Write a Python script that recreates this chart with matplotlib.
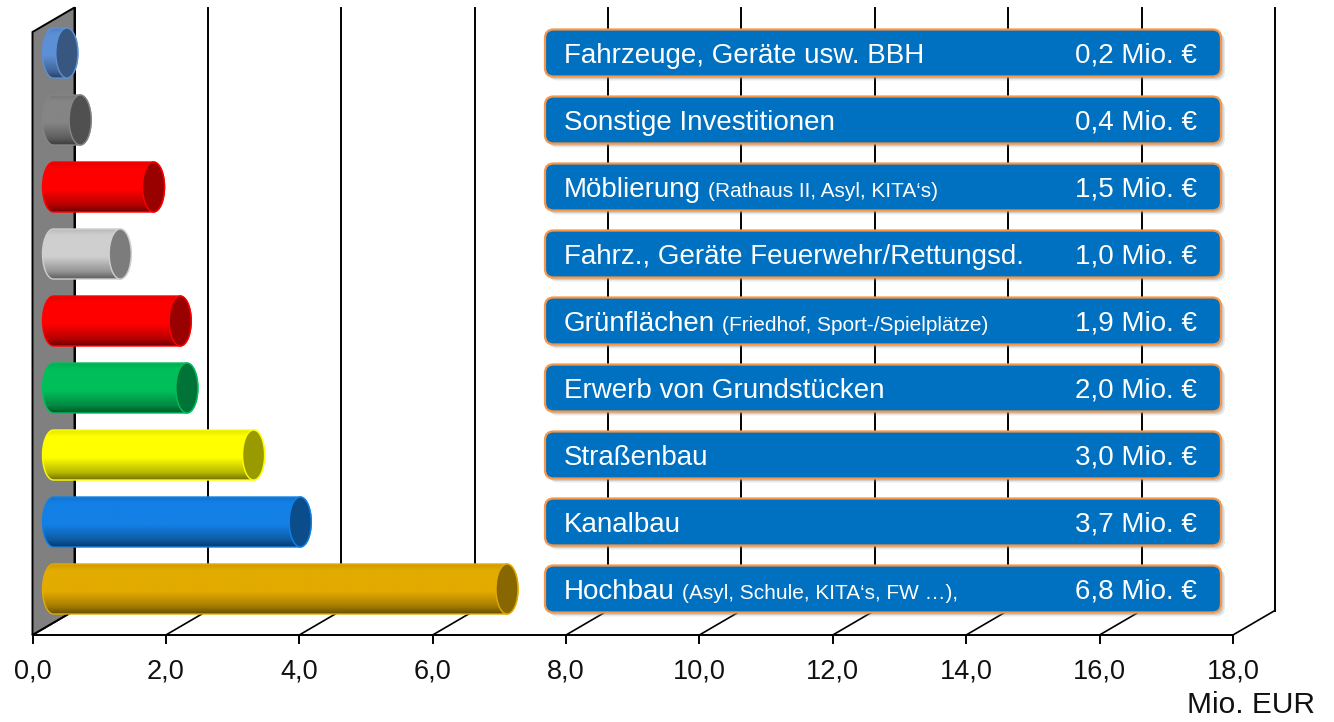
import numpy as np
import matplotlib
matplotlib.use('Agg')
import matplotlib.pyplot as plt
from matplotlib.patches import Polygon, PathPatch, Ellipse, FancyBboxPatch
from matplotlib.path import Path
from matplotlib.colors import to_rgb

# categories from bottom to top
labels = ['Hochbau', 'Kanalbau', 'Straßenbau', 'Erwerb von Grundstücken',
          'Grünflächen', 'Fahrz., Geräte Feuerwehr/Rettungsd.', 'Möblierung',
          'Sonstige Investitionen', 'Fahrzeuge, Geräte usw. BBH']
notes = ['(Asyl, Schule, KITA‘s, FW …),', '', '', '',
         '(Friedhof, Sport-/Spielplätze)', '', '(Rathaus II, Asyl, KITA‘s)', '', '']
values = [6.8, 3.7, 3.0, 2.0, 1.9, 1.0, 1.5, 0.4, 0.2]
colors = ['#E3AB00', '#1380E6', '#FFFF00', '#00BF5A', '#FF0000',
          '#CFCFCF', '#FF0000', '#858585', '#5C8FD6']
xticks = np.arange(0, 20, 2)

plt.rcParams['font.family'] = ['Liberation Sans', 'DejaVu Sans']

W, H = 1334, 722
PXX, PXY = 66.69, 67.0          # pixels per value unit / per category
X0, Y0 = 32.5, 589.0            # pixel of value 0 (front) and first bar centre
DX, DY = 42 / PXX, 24.5 / PXY   # depth of the 3d box
floor = (Y0 - 635) / PXY
top = (Y0 - 32) / PXY

fig = plt.figure(figsize=(W / 100, H / 100), dpi=100)
ax = fig.add_axes([0, 0, 1, 1])
ax.set_xlim(-X0 / PXX, (W - X0) / PXX)
ax.set_ylim((Y0 - H) / PXY, Y0 / PXY)
ax.axis('off')

# back wall
wall = Polygon([(0, floor), (0, top), (DX, top + DY), (DX, floor + DY)],
               closed=True, fc='#808080', ec='black', lw=1.4, zorder=1)
ax.add_patch(wall)

# back grid lines, floor diagonals, ticks
for v in xticks:
    ax.plot([v + DX, v + DX], [floor + DY, top + DY], color='black', lw=1.4, zorder=2)
    ax.plot([v, v + DX], [floor, floor + DY], color='black', lw=1.2, zorder=2)
    ax.plot([v, v], [floor, floor - 8 / PXY], color='black', lw=1.4, zorder=2)
    ax.text(v, (Y0 - 678) / PXY, f'{v:.1f}'.replace('.', ','), ha='center',
            va='baseline', fontsize=19.5, color='#111111', zorder=7)
ax.plot([0, xticks[-1]], [floor, floor], color='black', lw=1.4, zorder=2)
ax.text((1315 - X0) / PXX, (Y0 - 713) / PXY, 'Mio. EUR', ha='right', va='baseline',
        fontsize=21.5, color='#111111', zorder=7)

# cylinders
rx, ry = 11 / PXX, 25 / PXY
N = 120
t = np.linspace(0, 1, N)
shade = np.interp(t, [0, 0.12, 0.55, 0.85, 1.0], [0.9, 1.0, 1.0, 0.72, 0.45])
ang1 = np.linspace(np.pi / 2, 3 * np.pi / 2, 40)
ang2 = np.linspace(3 * np.pi / 2, 5 * np.pi / 2, 40)
for i, (v, c) in enumerate(zip(values, colors)):
    base = np.array(to_rgb(c))
    xs, xe = DX / 2, v + DX / 2
    y = i
    pts = np.vstack([np.column_stack([xs + rx * np.cos(ang1), y + ry * np.sin(ang1)]),
                     np.column_stack([xe + rx * np.cos(ang2), y + ry * np.sin(ang2)])])
    body = PathPatch(Path(np.vstack([pts, pts[:1]]), closed=True), fc='none',
                     ec=c, lw=1.0, zorder=5.1)
    ax.add_patch(body)
    grad = (shade[:, None, None] * base[None, None, :]).clip(0, 1)
    im = ax.imshow(grad, extent=[xs - rx, xe + rx, y - ry, y + ry], origin='upper',
                   aspect='auto', zorder=5, interpolation='bilinear')
    im.set_clip_path(body)
    ax.add_patch(Ellipse((xe, y), 2 * rx, 2 * ry, fc=base * 0.6, ec=c, lw=1.0,
                         zorder=5.2))

# label boxes
bx0, bx1 = (545 - X0) / PXX, (1221 - X0) / PXX
bh = 47 / PXY
cap = 20 * 100 / 72 * 0.716 / 2 / PXY   # half cap height of the 20pt font
main_texts = []
for i, (lab, v) in enumerate(zip(labels, values)):
    y = i
    for k, a in [(4, 0.18), (2.5, 0.3)]:
        ax.add_patch(FancyBboxPatch((bx0 + k / PXX, y - bh / 2 - k / PXY), bx1 - bx0, bh,
                                    boxstyle='round,pad=0,rounding_size=0.13',
                                    mutation_aspect=PXX / PXY, fc='#8a8a8a', ec='none',
                                    alpha=a, zorder=5.5))
    box = FancyBboxPatch((bx0, y - bh / 2), bx1 - bx0, bh,
                         boxstyle='round,pad=0,rounding_size=0.13',
                         mutation_aspect=PXX / PXY, fc='#0070C0', ec='#F79646',
                         lw=1.6, zorder=6)
    ax.add_patch(box)
    t1 = ax.text((564 - X0) / PXX, y - cap, lab, ha='left', va='baseline',
                 color='white', fontsize=20, zorder=7)
    main_texts.append(t1)
    ax.text((1197 - X0) / PXX, y - cap, f'{v:.1f}'.replace('.', ',') + ' Mio. €',
            ha='right', va='baseline', color='white', fontsize=20, zorder=7)

# small notes follow the main label
fig.canvas.draw()
r = fig.canvas.get_renderer()
for i, (t1, note) in enumerate(zip(main_texts, notes)):
    if note:
        xr = ax.transData.inverted().transform((t1.get_window_extent(r).x1, 0))[0]
        ax.text(xr + 7 / PXX, i - cap, note, ha='left', va='baseline',
                color='white', fontsize=15, zorder=7)

fig.savefig('out.png', dpi=100)
